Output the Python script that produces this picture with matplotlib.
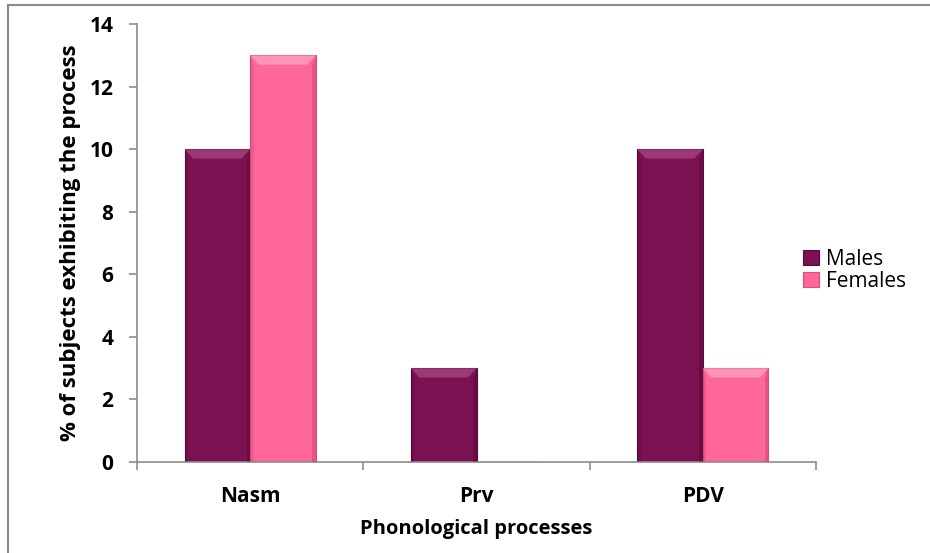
import numpy as np
import matplotlib
matplotlib.use("Agg")
import matplotlib.pyplot as plt
from matplotlib.lines import Line2D
from matplotlib.patches import Polygon

plt.rcParams["font.family"] = ["Open Sans", "DejaVu Sans"]

categories = ["Nasm", "Prv", "PDV"]
males = [10, 3, 10]
females = [13, 0, 3]
series_names = ["Males", "Females"]
y_ticks = [0, 2, 4, 6, 8, 10, 12, 14]

male_color = "#7b1150"
female_color = "#ff6699"
axis_grey = "#8c8c8c"


def bevel(ax, bars, light, dark):
    # Excel-style bevel: light band on top, darker bands on the sides
    for b in bars:
        h = b.get_height()
        if h <= 0:
            continue
        x0, w, top = b.get_x(), b.get_width(), b.get_y() + h
        d = w * 0.13
        dy = 0.3
        ax.add_patch(Polygon([(x0, top), (x0 + w, top), (x0 + w - d, top - dy), (x0 + d, top - dy)],
                             closed=True, facecolor=light, edgecolor="none", alpha=0.5, zorder=3))
        ax.add_patch(Polygon([(x0 + w, top), (x0 + w, 0), (x0 + w - d * 0.4, 0), (x0 + w - d * 0.4, top - dy)],
                             closed=True, facecolor=dark, edgecolor="none", alpha=0.25, zorder=3))
        ax.add_patch(Polygon([(x0, top), (x0, 0), (x0 + d * 0.4, 0), (x0 + d * 0.4, top - dy)],
                             closed=True, facecolor=dark, edgecolor="none", alpha=0.15, zorder=3))


fig = plt.figure(figsize=(9.3, 5.53), dpi=100)
ax = fig.add_axes([137 / 930, 1 - 462 / 553, (816 - 137) / 930, (462 - 24) / 553])

x = np.arange(len(categories))
w = 0.29
mb = ax.bar(x - w / 2, males, w, color=male_color, edgecolor="#5a0a3a", linewidth=0.8,
            label=series_names[0], zorder=2)
fb = ax.bar(x + w / 2, females, w, color=female_color, edgecolor="#d9507f", linewidth=0.8,
            label=series_names[1], zorder=2)
bevel(ax, mb, "#c0609a", "#3a0020")
bevel(ax, fb, "#ffc0d8", "#a02050")

ax.set_xlim(-0.5, len(categories) - 0.5)
ax.set_ylim(0, 14)
ax.set_yticks(y_ticks)
ax.set_yticklabels([str(v) for v in y_ticks], fontsize=15, fontweight="bold")
ax.set_xticks(x)
ax.set_xticklabels(categories, fontsize=15, fontweight="bold")
ax.tick_params(axis="x", length=0, pad=17)
ax.set_xticks(np.arange(len(categories) + 1) - 0.5, minor=True)
ax.tick_params(axis="x", which="minor", length=6, color=axis_grey, width=1.2)
ax.tick_params(axis="y", length=6, color=axis_grey, width=1.2, pad=11)

for s in ["top", "right"]:
    ax.spines[s].set_visible(False)
for s in ["left", "bottom"]:
    ax.spines[s].set_color(axis_grey)
    ax.spines[s].set_linewidth(1.2)

ax.set_xlabel("Phonological processes", fontsize=14.5, fontweight="bold", labelpad=9)
ax.set_ylabel("% of subjects exhibiting the process", fontsize=16, fontweight="bold", labelpad=6)

leg = ax.legend(loc="center left", bbox_to_anchor=(0.966, 0.437), frameon=False, fontsize=15,
                handlelength=0.75, handleheight=0.75, handletextpad=0.35, labelspacing=0.05,
                borderpad=0)

# outer chart frame (only left and top visible in the reference)
fig.add_artist(Line2D([8 / 930, 8 / 930], [0, 1 - 5 / 553], transform=fig.transFigure,
                      color="#8c8c8c", linewidth=1.5))
fig.add_artist(Line2D([8 / 930, 1], [1 - 5 / 553, 1 - 5 / 553], transform=fig.transFigure,
                      color="#8c8c8c", linewidth=1.5))

fig.savefig("out.png", dpi=100)
